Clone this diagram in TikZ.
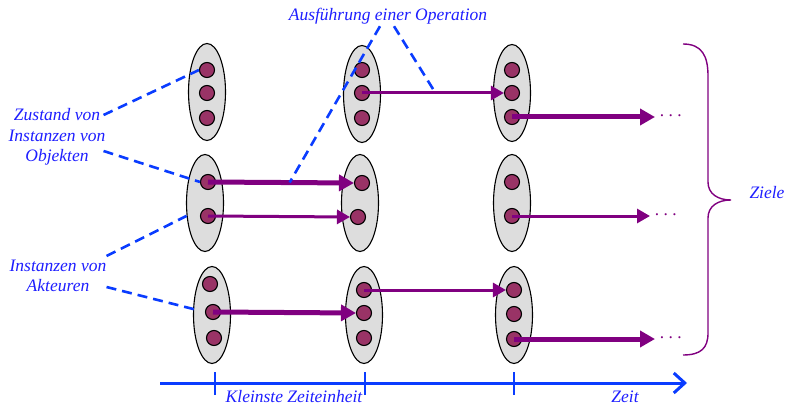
\documentclass[tikz,border=0pt]{standalone}
\usepackage{fontspec}
\setmainfont{Liberation Serif}
\usetikzlibrary{arrows.meta,shapes.geometric,calc}
\definecolor{podgray}{HTML}{DDDDDD}
\definecolor{beadfill}{HTML}{993366}
\definecolor{flow}{HTML}{800080}
\definecolor{note}{RGB}{30,30,255}
\definecolor{guide}{RGB}{10,60,255}

\begin{document}
\begin{tikzpicture}[x=1pt,y=-1pt,
  pod/.style={ellipse,draw=black,line width=1.1pt,fill=podgray,
    minimum width=37pt,minimum height=97pt,inner sep=0pt},
  bead/.style={circle,draw=black,line width=1.1pt,fill=beadfill,
    minimum size=15pt,inner sep=0pt},
  lbl/.style={text=note,font=\fontsize{17.5}{20.5}\selectfont\itshape,
    inner sep=0pt,align=center},
  bigmove/.style={draw=flow,line width=5pt,-{Triangle[length=15pt,width=16pt]}},
  smallmove/.style={draw=flow,line width=3pt,-{Triangle[length=13pt,width=14pt]}},
  more/.style={text=flow,font=\fontsize{17.5}{20}\selectfont,anchor=west,inner sep=0pt},
  hint/.style={draw=guide,line width=2.6pt,dash pattern=on 10pt off 6pt},
  axis/.style={draw=guide,line width=3pt,-{Straight Barb[length=11pt,width=20pt,line width=3pt]}},
  tick/.style={draw=guide,line width=1.5pt}]

\useasboundingbox (0,0) rectangle (786,406);

% pods: one ellipse per object state, three columns (time steps) x three rows
\node[pod] (e11) at (207,92) {};
\node[pod] (e21) at (205,203) {};
\node[pod] (e31) at (212,315) {};
\node[pod] (e12) at (362,94) {};
\node[pod] (e22) at (360,203) {};
\node[pod] (e32) at (364,315) {};
\node[pod] (e13) at (512,93) {};
\node[pod] (e23) at (512,203) {};
\node[pod] (e33) at (514,315) {};

% beads: the instances inside each pod
\node[bead] (d11a) at (207,70) {};
\node[bead] (d11b) at (207,93) {};
\node[bead] (d11c) at (207,118) {};
\node[bead] (d21a) at (208,182) {};
\node[bead] (d21b) at (208,216) {};
\node[bead] (d31a) at (210,284) {};
\node[bead] (d31b) at (213,312) {};
\node[bead] (d31c) at (214,338) {};

\node[bead] (d12a) at (362,70) {};
\node[bead] (d12b) at (362,93) {};
\node[bead] (d12c) at (362,118) {};
\node[bead] (d22a) at (362,183) {};
\node[bead] (d22b) at (358,217) {};
\node[bead] (d32a) at (364,290) {};
\node[bead] (d32b) at (364,313) {};
\node[bead] (d32c) at (364,338) {};

\node[bead] (d13a) at (512,70) {};
\node[bead] (d13b) at (512,93) {};
\node[bead] (d13c) at (512,117) {};
\node[bead] (d23a) at (512,182) {};
\node[bead] (d23b) at (512,216) {};
\node[bead] (d33a) at (514,290) {};
\node[bead] (d33b) at (514,314) {};
\node[bead] (d33c) at (514,339) {};

% open ends of the last transitions
\coordinate (end1) at (655,117);
\coordinate (end2) at (650,216);
\coordinate (end3) at (655,339);

% transitions between states
\draw[smallmove] (d12b.center) -- (d13b.west);
\draw[bigmove]   (d13c.center) -- (end1);
\draw[bigmove]   (d21a.center) -- (d22a.west);
\draw[smallmove] (d21b.center) -- (d22b.west);
\draw[smallmove] (d23b.center) -- (end2);
\draw[bigmove]   (d31b.center) -- (d32b.west);
\draw[smallmove] (d32a.center) -- (d33a.west);
\draw[bigmove]   (d33c.center) -- (end3);

\node[more] (m1) at ([xshift=4pt,yshift=-1pt]end1) {·\,·\,·};
\node[more] (m2) at ([xshift=4pt,yshift=-1pt]end2) {·\,·\,·};
\node[more] (m3) at ([xshift=4pt,yshift=-1pt]end3) {·\,·\,·};

% goals brace
\draw[flow,line width=1.4pt] (683,44) .. controls (702,44) and (708,56) .. (708,76)
  -- (708,182) .. controls (708,194) and (718,200) .. (731,200)
  .. controls (718,200) and (708,206) .. (708,218)
  -- (708,333) .. controls (708,348) and (701,355) .. (683,355);
\node[lbl] (goal) at (767,193) {Ziele};

% time axis
\coordinate (t0) at (160,383);
\coordinate (t1) at (687,383);
\draw[axis] (t0) -- (t1);
\draw[tick] (215,372) -- (215,395);
\draw[tick] (365,372) -- (365,395);
\draw[tick] (514,372) -- (514,395);
\node[lbl] (unit) at (294,397) {Kleinste Zeiteinheit};
\node[lbl] (time) at (625,397) {Zeit};

% explanatory labels
\node[lbl] (state) at (57,137) {Zustand von\\Instanzen von\\Objekten};
\node[lbl] (actor) at (58,276) {Instanzen von\\Akteuren};
\node[lbl] (op) at (388,16) {Ausführung einer Operation};

\coordinate (opA) at ($(d21a)!0.53!(d22a)$);
\coordinate (opB) at ($(d12b)!0.49!(d13b)$);

\draw[hint] ($(state.east)+(-2,-22)$) -- (d11a.west);
\draw[hint] ($(state.east)+(-2,14)$) -- (d21a.west);
\draw[hint] ($(actor.east)+(0,-20)$) -- (e21.215);
\draw[hint,shorten >=7pt] ($(actor.east)+(0,11)$) -- (d31b.west);
\draw[hint] ($(op.south)+(-8,2)$) -- (opA);
\draw[hint] ($(op.south)+(6,2)$) -- (opB);

\end{tikzpicture}
\end{document}
